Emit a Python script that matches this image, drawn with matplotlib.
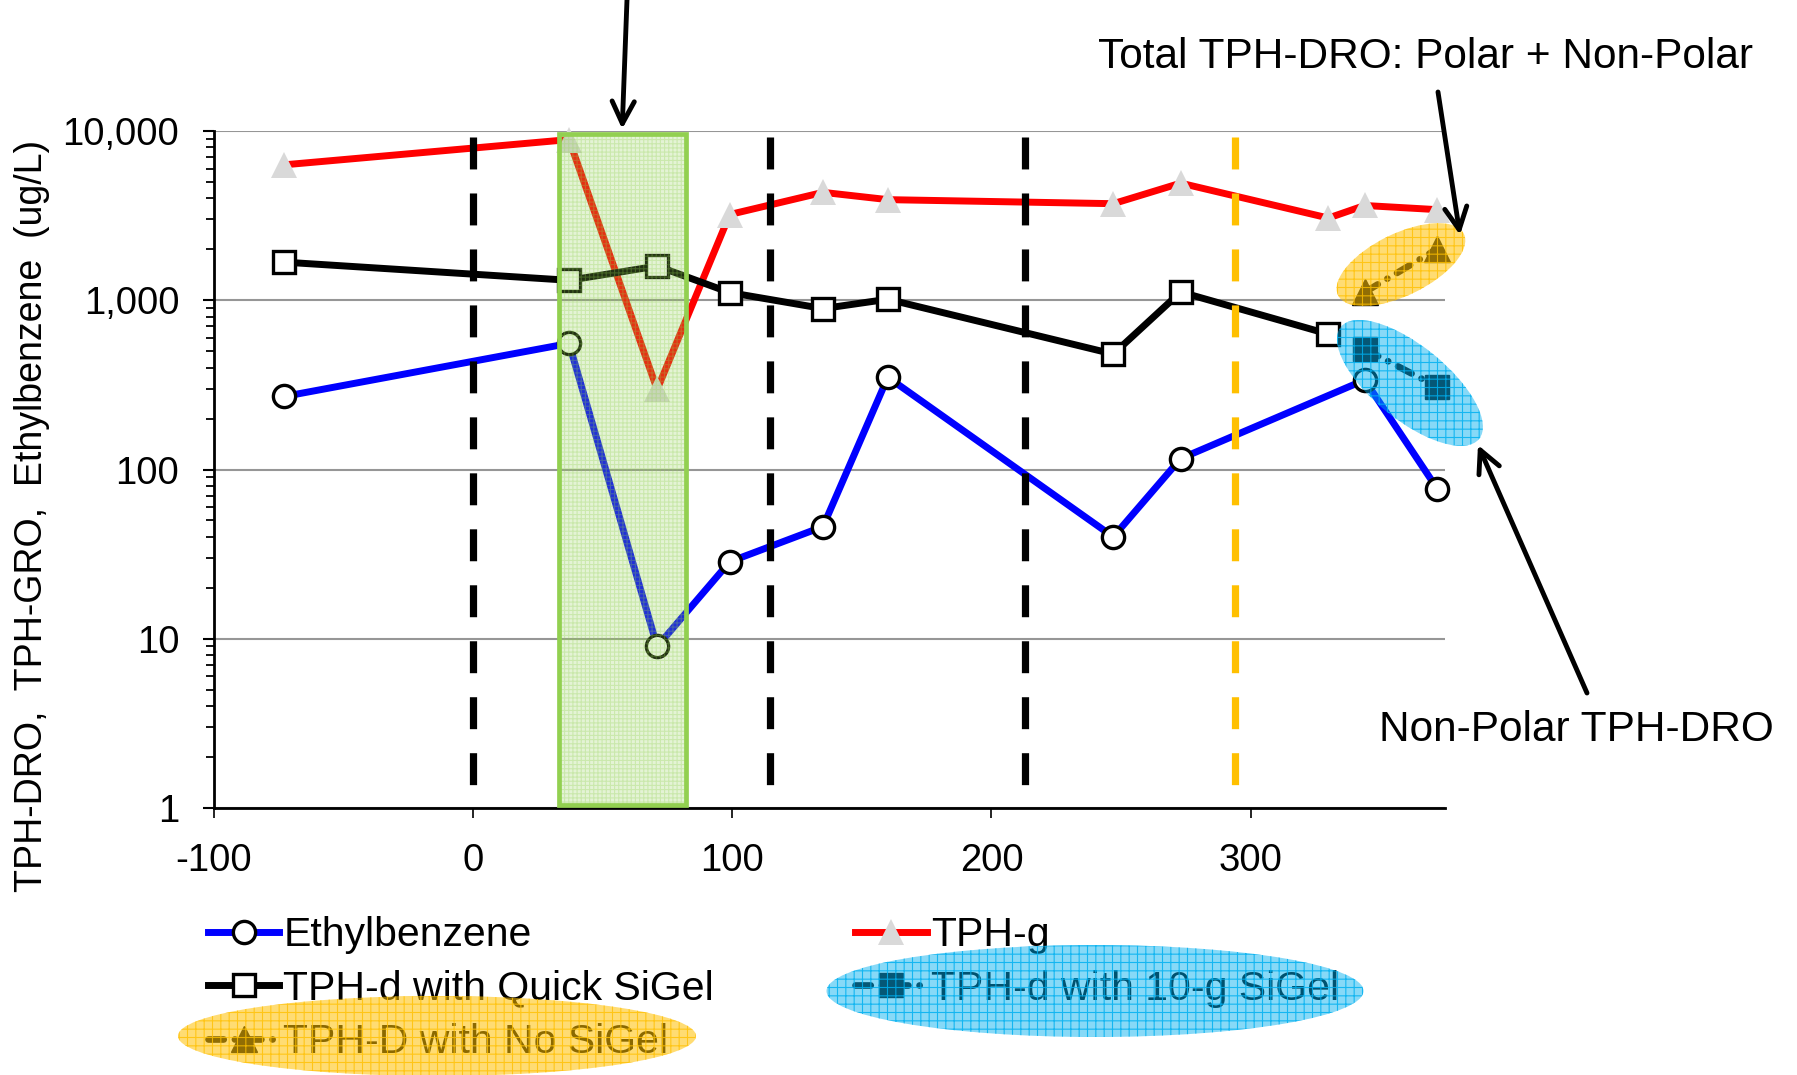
import numpy as np
import matplotlib
matplotlib.use('Agg')
import matplotlib.pyplot as plt
from matplotlib.patches import Ellipse, Rectangle, FancyArrowPatch
from matplotlib.transforms import IdentityTransform, blended_transform_factory
from matplotlib.ticker import FuncFormatter, LogLocator, NullFormatter

plt.rcParams['font.family'] = ['Liberation Sans', 'DejaVu Sans']
plt.rcParams['axes.unicode_minus'] = False
plt.rcParams['lines.scale_dashes'] = False
plt.rcParams['hatch.linewidth'] = 0.8

# days relative to start of treatment
days = [-73, 37, 71, 99, 135, 160, 247, 273, 330, 344, 372]
eb_days = [-73, 37, 71, 99, 135, 160, 247, 273, 344, 372]
quick_days = [-73, 37, 71, 99, 135, 160, 247, 273, 330]
dro_days = [344, 372]

# concentrations, ug/L
ethylbenzene = [270, 556, 9, 28.5, 46, 351, 40, 116, 338, 77]
tph_g = [6310, 8900, 297, 3210, 4340, 3930, 3720, 4920, 3060, 3630, 3430]
tph_d_quick = [1680, 1312, 1592, 1110, 893, 1014, 481, 1119, 631]
tph_d_10g = [515, 308]
tph_d_nosigel = [1115, 2010]

event_days = [0, 114.5, 213]
orange_day = 294
window = (33, 82)

W, H = 1797, 1075
fig = plt.figure(figsize=(W / 100, H / 100), dpi=100)
ax = fig.add_axes([214 / W, 1 - 808 / H, (1445 - 214) / W, (808 - 131) / H])

lw = 5.0
l_eb, = ax.plot(eb_days, ethylbenzene, color='#0000FF', lw=lw, marker='o', ms=16,
                mfc='white', mec='black', mew=2.4, zorder=4, clip_on=False, label='Ethylbenzene')
l_g, = ax.plot(days, tph_g, color='#FF0000', lw=lw, marker='^', ms=18.5,
               mfc='#D9D9D9', mec='#D9D9D9', mew=0, zorder=3, clip_on=False, label='TPH-g')
l_quick, = ax.plot(quick_days, tph_d_quick, color='black', lw=lw, marker='s', ms=16,
                   mfc='white', mec='black', mew=2.4, zorder=5, clip_on=False,
                   label='TPH-d with Quick SiGel')
l_10g, = ax.plot(dro_days, tph_d_10g, color='#0a0a0a', lw=4.8, ls=(0, (11, 8, 0.1, 8)),
                 dash_capstyle='round', marker='s', ms=17, mfc='#0a0a0a', mec='#0a0a0a',
                 zorder=6, clip_on=False, label='TPH-d with 10-g SiGel')
l_nosi, = ax.plot(dro_days, tph_d_nosigel, color='#0a0a0a', lw=4.8, ls=(0, (11, 8, 0.1, 8)),
                  dash_capstyle='round', marker='^', ms=19, mfc='#0a0a0a', mec='#0a0a0a',
                  zorder=6, clip_on=False, label='TPH-D with No SiGel')

# event markers
tr = blended_transform_factory(ax.transData, ax.transAxes)
for d in event_days:
    ax.plot([d, d], [0.991, 0.034], transform=tr, color='black', lw=5.2,
            ls=(0, (23, 17.3)), zorder=7)
ax.plot([orange_day, orange_day], [0.991, 0.034], transform=tr, color='#FFC000', lw=5.2,
        ls=(0, (23, 17.3)), zorder=7)

# shaded window
x0, x1 = window
ax.add_patch(Rectangle((x0, 0.004), x1 - x0, 0.992, transform=tr, facecolor='#92D050',
                       alpha=0.24, edgecolor='none', zorder=8))
ax.add_patch(Rectangle((x0, 0.004), x1 - x0, 0.992, transform=tr, fill=False, hatch='++++',
                       edgecolor=(0.57, 0.82, 0.31, 0.3), lw=0, zorder=8.5))
ax.add_patch(Rectangle((x0, 0.004), x1 - x0, 0.992, transform=tr, fill=False,
                       edgecolor='#92D050', lw=3.4, zorder=9))

ax.set_yscale('log')
ax.set_ylim(1, 10000)
ax.set_xlim(-100, 375)
ax.set_xticks([-100, 0, 100, 200, 300])
ax.yaxis.set_major_locator(LogLocator(base=10))
ax.yaxis.set_minor_locator(LogLocator(base=10, subs=np.arange(2, 10)))
ax.yaxis.set_major_formatter(FuncFormatter(lambda v, p: f'{v:,.0f}'))
ax.yaxis.set_minor_formatter(NullFormatter())

ax.spines['top'].set_visible(False)
ax.spines['right'].set_visible(False)
ax.spines['left'].set_linewidth(2)
ax.spines['bottom'].set_linewidth(2)
ax.yaxis.grid(True, which='major', color='#969696', lw=1.5)
ax.set_axisbelow(True)

ax.tick_params(axis='y', which='major', length=8, width=1.5, pad=17, labelsize=27.5)
ax.tick_params(axis='y', which='minor', length=5.5, width=1.3)
ax.tick_params(axis='x', which='major', length=7, width=1.2, pad=18, labelsize=27.5)

ax.set_ylabel('TPH-DRO,  TPH-GRO,  Ethylbenzene  (ug/L)', fontsize=27)
ax.yaxis.set_label_coords(-0.148, 0.431)
ax.yaxis.label.set_va('center')

fig.legend(handles=[l_eb, l_quick, l_nosi, l_g, l_10g], loc='upper left',
           bbox_to_anchor=(208 / W, 1 - 916 / H), ncol=2, frameon=False, fontsize=29.5,
           handlelength=1.74, handletextpad=0.1, columnspacing=3.45, labelspacing=0.38,
           borderpad=0, borderaxespad=0, numpoints=1)


def overlay(center, w, h, angle, color, alpha, hatch_alpha):
    rgb = matplotlib.colors.to_rgb(color)
    fig.add_artist(Ellipse(center, w, h, angle=angle, transform=IdentityTransform(),
                           facecolor=color, alpha=alpha, edgecolor='none', zorder=20))
    fig.add_artist(Ellipse(center, w, h, angle=angle, transform=IdentityTransform(),
                           fill=False, hatch='++', edgecolor=rgb + (hatch_alpha,), lw=0, zorder=21))


# highlight the DRO fractions in the plot and in the legend
pts = ax.transData.transform(np.column_stack([dro_days, tph_d_nosigel]))
overlay(pts.mean(axis=0) + [0, 6], 140, 62, 26, '#FFC000', 0.55, 0.8)
pts = ax.transData.transform(np.column_stack([dro_days, tph_d_10g]))
overlay(pts.mean(axis=0) + [9, -15], 178, 74, -39, '#00B0F0', 0.47, 0.85)
overlay((437, H - 1036), 518, 80, 0, '#FFC000', 0.55, 0.8)
overlay((1095, H - 991), 537, 92, 0, '#00B0F0', 0.47, 0.85)

# callouts
arrow = dict(arrowstyle='->,head_length=0.4,head_width=0.2', mutation_scale=40, lw=3.5,
             color='black', shrinkA=0, shrinkB=0, transform=IdentityTransform(), zorder=25)
top = ax.transData.transform((np.mean(window), 10000))
fig.add_artist(FancyArrowPatch((top[0] + 5, H + 5), (top[0], top[1] + 2), **arrow))
fig.add_artist(FancyArrowPatch((1438, H - 92), (1460, H - 235), **arrow))
fig.add_artist(FancyArrowPatch((1587, H - 693), (1478, H - 445), **arrow))

fig.text(1098 / W, 1 - 57 / H, 'Total TPH-DRO: Polar + Non-Polar', fontsize=30.5,
         ha='left', va='center')
fig.text(1379 / W, 1 - 730 / H, 'Non-Polar TPH-DRO', fontsize=30.5, ha='left', va='center')

fig.savefig('out.png', dpi=100)
plt.close()
